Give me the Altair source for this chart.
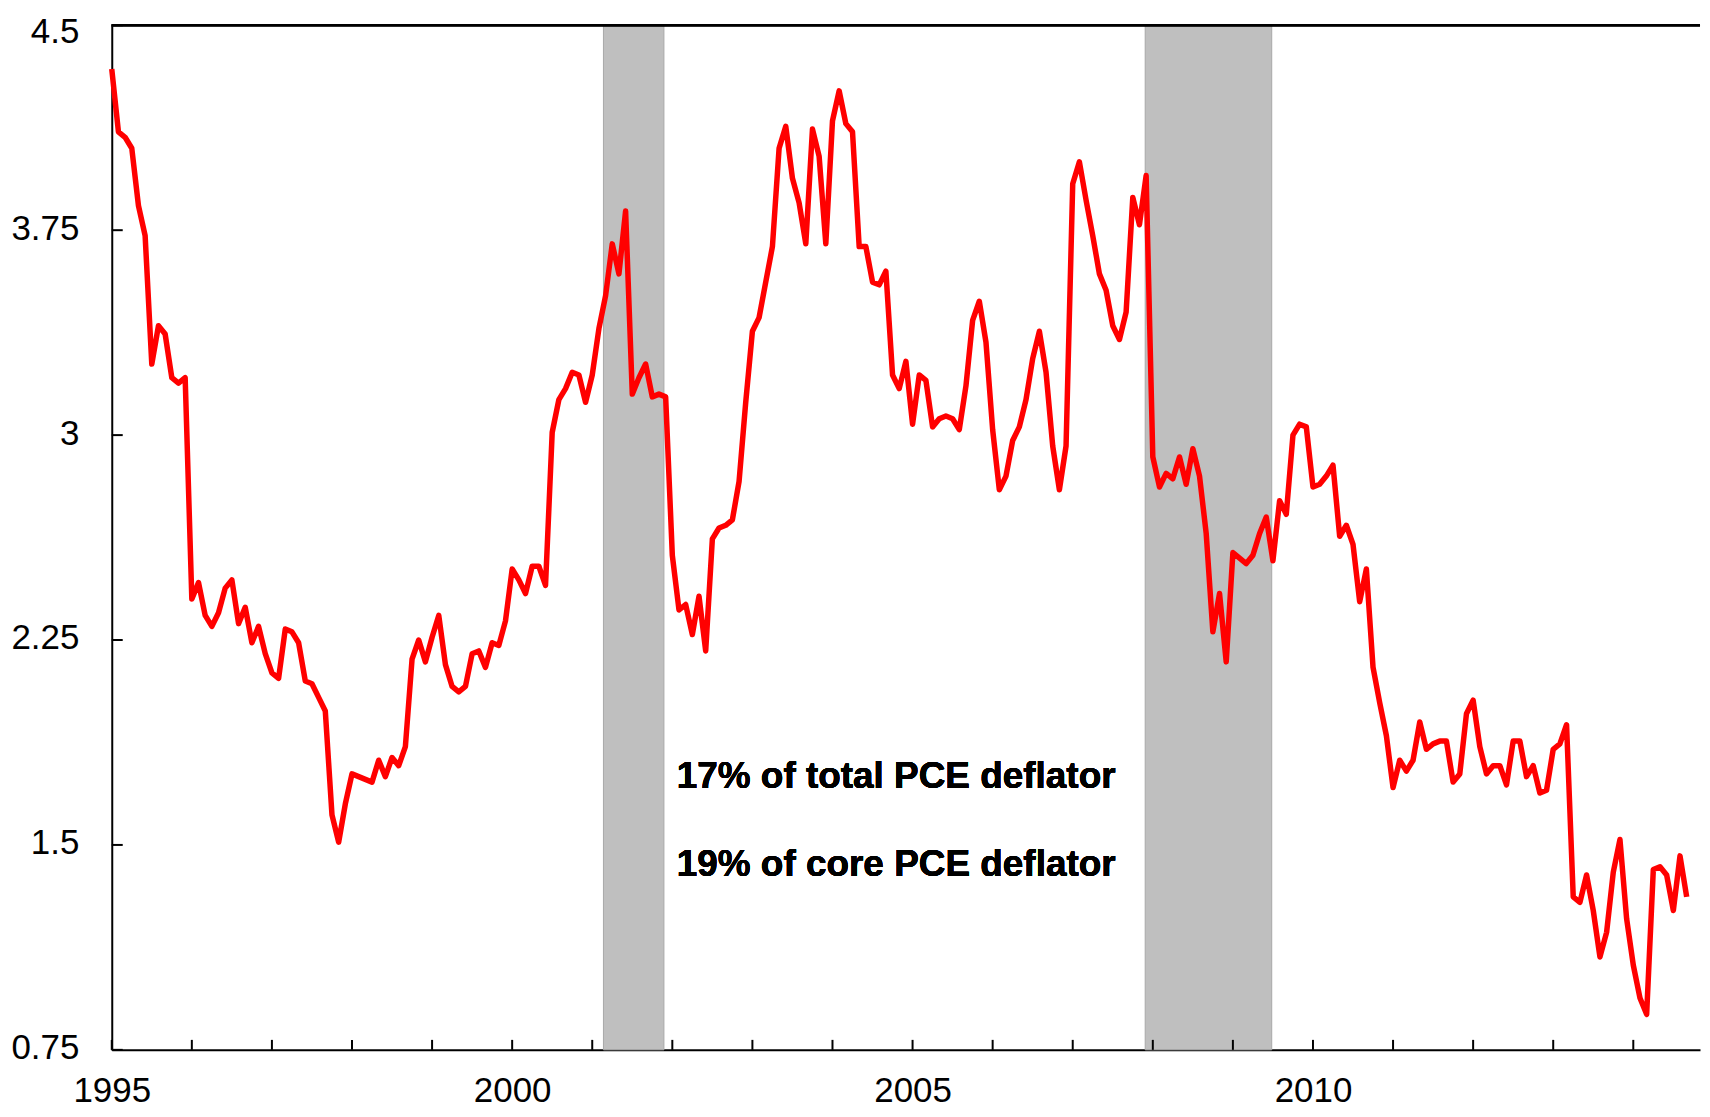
import altair as alt
import pandas as pd

START_YEAR = 1995
VALUES = [
    4.34, 4.11, 4.09, 4.05, 3.84, 3.73, 3.26, 3.40, 3.37, 3.21, 3.19, 3.21,
    2.40, 2.46, 2.34, 2.30, 2.35, 2.44, 2.47, 2.31, 2.37, 2.24, 2.30, 2.20,
    2.13, 2.11, 2.29, 2.28, 2.24, 2.10, 2.09, 2.04, 1.99, 1.61, 1.51, 1.65,
    1.76, 1.75, 1.74, 1.73, 1.81, 1.75, 1.82, 1.79, 1.86, 2.18, 2.25, 2.17,
    2.26, 2.34, 2.16, 2.08, 2.06, 2.08, 2.20, 2.21, 2.15, 2.24, 2.23, 2.32,
    2.51, 2.47, 2.42, 2.52, 2.52, 2.45, 3.01, 3.13, 3.17, 3.23, 3.22, 3.12,
    3.22, 3.39, 3.51, 3.70, 3.59, 3.82, 3.15, 3.21, 3.26, 3.14, 3.15, 3.14,
    2.56, 2.36, 2.38, 2.27, 2.41, 2.21, 2.62, 2.66, 2.67, 2.69, 2.83, 3.12,
    3.38, 3.43, 3.56, 3.69, 4.05, 4.13, 3.94, 3.85, 3.70, 4.12, 4.02, 3.70,
    4.15, 4.26, 4.14, 4.11, 3.69, 3.69, 3.56, 3.55, 3.60, 3.22, 3.17, 3.27,
    3.04, 3.22, 3.20, 3.03, 3.06, 3.07, 3.06, 3.02, 3.18, 3.42, 3.49, 3.34,
    3.02, 2.80, 2.85, 2.98, 3.03, 3.13, 3.28, 3.38, 3.23, 2.96, 2.80, 2.96,
    3.92, 4.00, 3.86, 3.73, 3.59, 3.53, 3.40, 3.35, 3.45, 3.87, 3.77, 3.95,
    2.92, 2.81, 2.86, 2.84, 2.92, 2.82, 2.95, 2.85, 2.64, 2.28, 2.42, 2.17,
    2.57, 2.55, 2.53, 2.56, 2.64, 2.70, 2.54, 2.76, 2.71, 3.00, 3.04, 3.03,
    2.81, 2.82, 2.85, 2.89, 2.63, 2.67, 2.60, 2.39, 2.51, 2.15, 2.02, 1.90,
    1.71, 1.81, 1.77, 1.81, 1.95, 1.85, 1.87, 1.88, 1.88, 1.73, 1.76, 1.98,
    2.03, 1.86, 1.76, 1.79, 1.79, 1.72, 1.88, 1.88, 1.75, 1.79, 1.69, 1.70,
    1.85, 1.87, 1.94, 1.31, 1.29, 1.39, 1.26, 1.09, 1.18, 1.40, 1.52, 1.23,
    1.06, 0.94, 0.88, 1.41, 1.42, 1.39, 1.26, 1.46, 1.31,
]
RECESSION_START = [2001.14, 2007.905]
RECESSION_END = [2001.895, 2009.485]
X_LABEL_YEARS = [1995, 2000, 2005, 2010]
X_TICK_YEARS = list(range(1995, 2015))
Y_TICKS = [0.75, 1.5, 2.25, 3, 3.75, 4.5]
NOTES = ["17% of total PCE deflator", "19% of core PCE deflator"]

W, H = 1592, 1027
FONT = "Liberation Sans"

line_df = pd.DataFrame({
    "t": [START_YEAR + i / 12 for i in range(len(VALUES))],
    "v": VALUES,
})
band_df = pd.DataFrame({"t": RECESSION_START, "e": RECESSION_END})
xt_df = pd.DataFrame({"t": X_TICK_YEARS})
yt_df = pd.DataFrame({"v": Y_TICKS})

xscale = alt.Scale(domain=[1995, 1995 + W / 80.27], nice=False, zero=False)
yscale = alt.Scale(domain=[0.75, 4.5], nice=False, zero=False)

xaxis = alt.Axis(values=X_LABEL_YEARS, format="d", ticks=False, grid=False,
                 domainColor="black", domainWidth=2, labelFont=FONT,
                 labelFontSize=35, labelColor="black", labelPadding=24,
                 labelFlush=False, labelOverlap=False, title=None)
yaxis = alt.Axis(values=Y_TICKS, format=".3~g", ticks=False, grid=False,
                 domainColor="black", domainWidth=2, labelFont=FONT,
                 labelFontSize=35, labelColor="black", labelPadding=33,
                 labelOffset={"condition": {"test": "datum.value >= 4.4",
                                            "value": 6},
                              "value": -2},
                 labelFlush=False, labelOverlap=False, title=None)

X = lambda f: alt.X(f, scale=xscale, axis=xaxis, title=None)
Y = lambda f: alt.Y(f, scale=yscale, axis=yaxis, title=None)

bands = alt.Chart(band_df).mark_rect(
    color="#BFBFBF", stroke="#A8A8A8", strokeWidth=1
).encode(
    x=X("t:Q"),
    x2="e:Q",
    y=alt.value(0),
    y2=alt.value(H),
)

line = alt.Chart(line_df).mark_line(
    color="#FF0000", strokeWidth=5.5, strokeJoin="round"
).encode(
    x=X("t:Q"),
    y=Y("v:Q"),
)

xticks = alt.Chart(xt_df).mark_rule(color="black", strokeWidth=2).encode(
    x=X("t:Q"),
    y=alt.value(H),
    y2=alt.value(H - 10),
)

yticks = alt.Chart(yt_df).mark_rule(color="black", strokeWidth=2).encode(
    y=Y("v:Q"),
    x=alt.value(0),
    x2=alt.value(11),
)

top_border = alt.Chart(yt_df).mark_rule(color="black", strokeWidth=2).encode(
    x=alt.value(0),
    x2=alt.value(W),
    y=alt.value(0),
)

note_style = dict(align="left", baseline="alphabetic", fontWeight="bold",
                  fontSize=37, font=FONT, color="black")
note1 = alt.Chart(yt_df).mark_text(text=NOTES[0], **note_style).encode(
    x=alt.datum(2002.055, scale=xscale, axis=xaxis),
    y=alt.datum(1.71, scale=yscale, axis=yaxis),
)
note2 = alt.Chart(yt_df).mark_text(text=NOTES[1], **note_style).encode(
    x=alt.datum(2002.055, scale=xscale, axis=xaxis),
    y=alt.datum(1.385, scale=yscale, axis=yaxis),
)

chart = alt.layer(
    bands, line, xticks, yticks, top_border, note1, note2
).properties(
    width=W, height=H,
    autosize=alt.AutoSizeParams(type="none"),
    padding={"left": 104, "top": 16, "right": 2, "bottom": 70},
).configure_view(stroke=None)

chart.save("out.html", embed_options={"renderer": "svg", "actions": False})
